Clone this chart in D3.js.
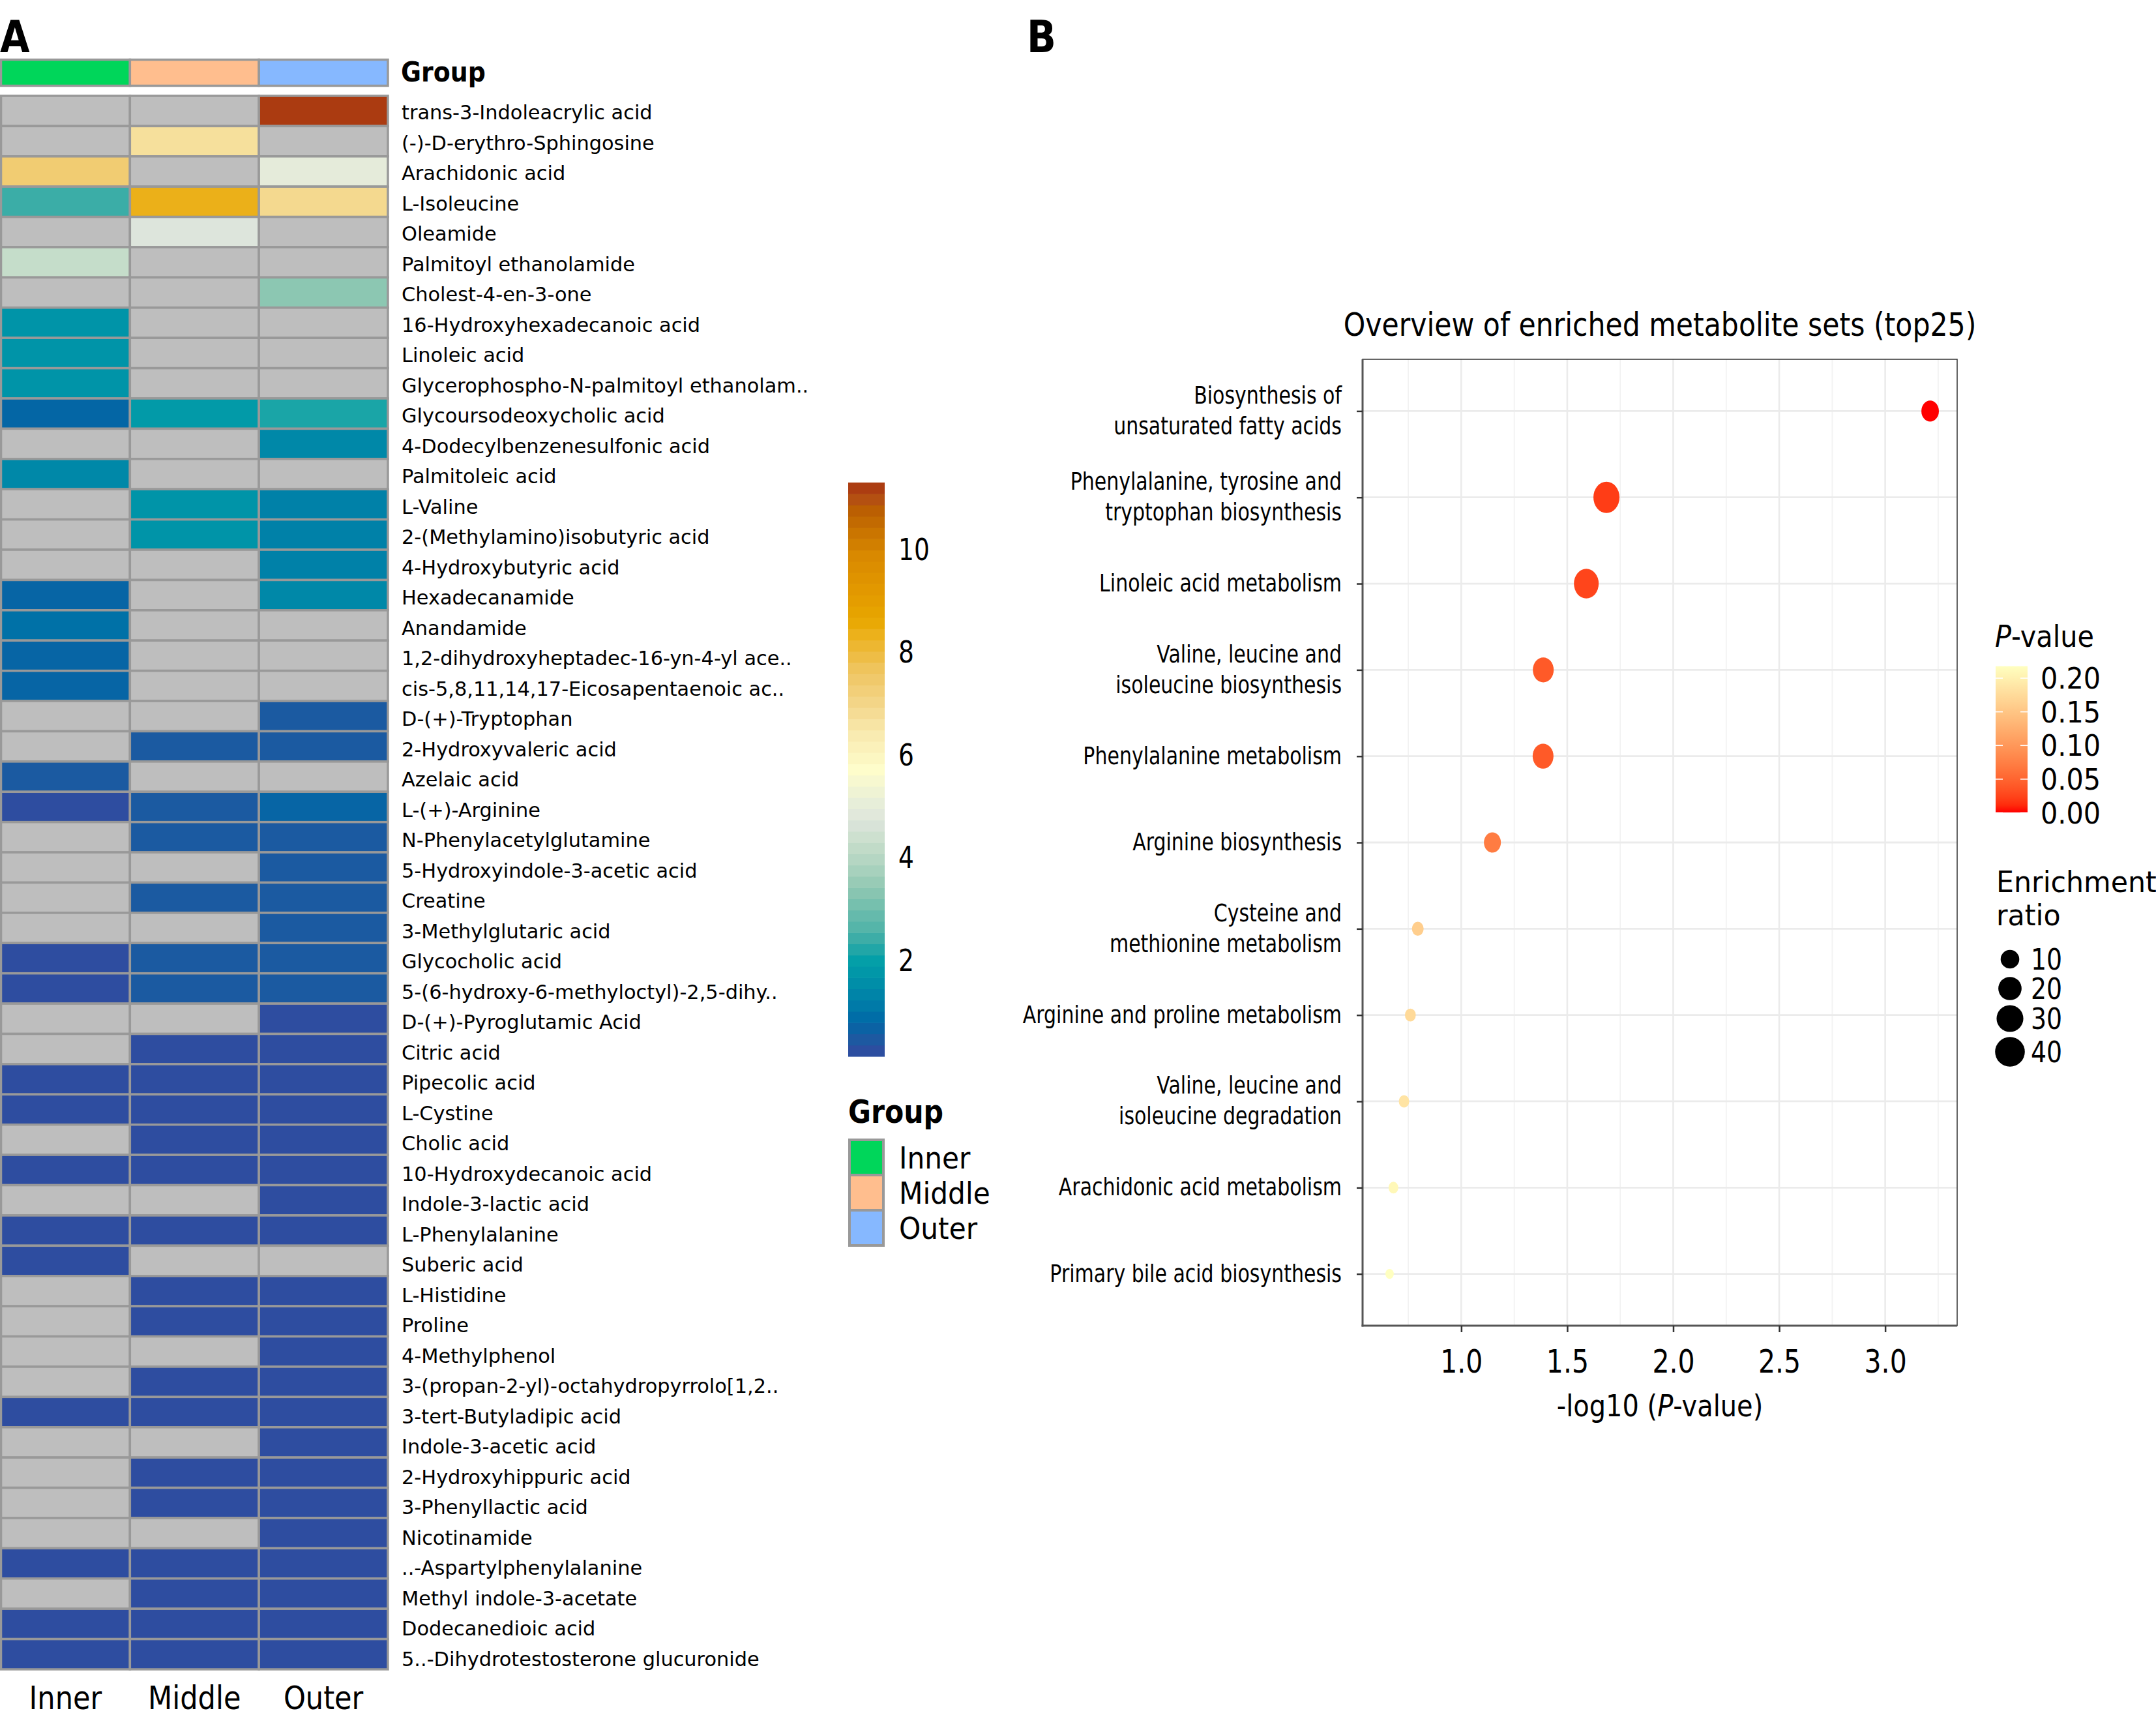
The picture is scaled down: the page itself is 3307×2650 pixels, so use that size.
<!DOCTYPE html>
<html><head><meta charset="utf-8">
<script src="https://cdn.jsdelivr.net/npm/d3@7"></script>
<style>body{margin:0;background:#fff}svg{display:block;background:#fff}</style>
</head><body>
<svg id="chart" width="3307" height="2650"></svg>
<script>
// ---------------- Panel A data ----------------
const metabolites = [
 "trans-3-Indoleacrylic acid","(-)-D-erythro-Sphingosine","Arachidonic acid","L-Isoleucine","Oleamide",
 "Palmitoyl ethanolamide","Cholest-4-en-3-one","16-Hydroxyhexadecanoic acid","Linoleic acid",
 "Glycerophospho-N-palmitoyl ethanolam..","Glycoursodeoxycholic acid","4-Dodecylbenzenesulfonic acid",
 "Palmitoleic acid","L-Valine","2-(Methylamino)isobutyric acid","4-Hydroxybutyric acid","Hexadecanamide",
 "Anandamide","1,2-dihydroxyheptadec-16-yn-4-yl ace..","cis-5,8,11,14,17-Eicosapentaenoic ac..",
 "D-(+)-Tryptophan","2-Hydroxyvaleric acid","Azelaic acid","L-(+)-Arginine","N-Phenylacetylglutamine",
 "5-Hydroxyindole-3-acetic acid","Creatine","3-Methylglutaric acid","Glycocholic acid",
 "5-(6-hydroxy-6-methyloctyl)-2,5-dihy..","D-(+)-Pyroglutamic Acid","Citric acid","Pipecolic acid",
 "L-Cystine","Cholic acid","10-Hydroxydecanoic acid","Indole-3-lactic acid","L-Phenylalanine",
 "Suberic acid","L-Histidine","Proline","4-Methylphenol","3-(propan-2-yl)-octahydropyrrolo[1,2..",
 "3-tert-Butyladipic acid","Indole-3-acetic acid","2-Hydroxyhippuric acid","3-Phenyllactic acid",
 "Nicotinamide","..-Aspartylphenylalanine","Methyl indole-3-acetate","Dodecanedioic acid",
 "5..-Dihydrotestosterone glucuronide"];
const groups = ["Inner","Middle","Outer"];
const groupColors = ["#00D65A","#FFBE8E","#86B8FF"];
const N = null;
const innerValues = [N,N,7.35,2.4,N,4.25,N,1.7,1.7,1.7,0.75,N,1.4,N,N,N,0.72,0.95,0.72,0.72,
 N,N,0.48,0.2,N,N,N,N,0.2,0.2,N,N,0.2,0.2,N,0.2,N,0.2,0.2,N,N,N,N,0.2,N,N,N,N,0.2,N,0.2,0.2];
const middleValues = [N,6.7,N,8.35,4.7,N,N,N,N,N,1.85,N,N,1.7,1.7,N,N,N,N,N,
 N,0.48,N,0.48,0.48,N,0.48,N,0.48,0.48,N,0.2,0.2,0.2,0.2,0.2,N,0.2,N,0.2,0.2,N,0.2,0.2,N,0.2,0.2,N,0.2,0.2,0.2,0.2];
const outerValues = [11.2,N,4.95,6.9,N,N,3.35,N,N,N,2.15,1.4,N,1.25,1.25,1.25,1.4,N,N,N,
 0.48,0.48,N,0.72,0.48,0.48,0.48,0.48,0.48,0.48,0.2,0.2,0.2,0.2,0.2,0.2,0.2,0.2,N,0.2,0.2,0.2,0.2,0.2,0.2,0.2,0.2,0.2,0.2,0.2,0.2,0.2];
const heatTicks = [2,4,6,8,10];
const heatRange = [0.12, 11.29];
const paletteValues = [0.12,0.45,0.8,1.1,1.4,1.7,2.0,2.3,2.6,3.0,3.4,3.85,4.3,4.7,5.1,5.7,6.4,6.8,7.2,7.7,8.3,8.6,9.1,9.86,10.3,10.76,11.0,11.29];
const paletteColors = ["#3449A0","#1D59A1","#0068A6","#007AA8","#0088A8","#0094A8","#04A0A8","#2FA9A6","#52B4A9","#70BEAD","#90C8B3","#AFD4C0","#C8DECB","#DDE5DC","#E9EFD8","#FEFDCB","#F9EAB0","#F5DC95","#F2D07C","#EFC35A","#ECB21E","#E8A700","#E39A00","#D98900","#CA7500","#BA5E02","#B34D14","#A8330F"];

// ---------------- Panel B data ----------------
const pathways = ["Biosynthesis of\nunsaturated fatty acids","Phenylalanine, tyrosine and\ntryptophan biosynthesis",
 "Linoleic acid metabolism","Valine, leucine and\nisoleucine biosynthesis","Phenylalanine metabolism",
 "Arginine biosynthesis","Cysteine and\nmethionine metabolism","Arginine and proline metabolism",
 "Valine, leucine and\nisoleucine degradation","Arachidonic acid metabolism","Primary bile acid biosynthesis"];
const negLog10P = [3.212,1.685,1.590,1.387,1.386,1.147,0.795,0.760,0.730,0.680,0.662];
const enrichmentRatio = [8.1,27.8,24.0,14.3,14.3,7.3,1.95,1.5,1.35,1.16,1.0];
const xTicks = [1.0,1.5,2.0,2.5,3.0];
const pTicks = [0.00,0.05,0.10,0.15,0.20];
const sizeBreaks = [10,20,30,40];

// ---------------- helpers ----------------
const svg = d3.select("#chart");
const FONT = "DejaVu Sans";
function label(parent, x, y, parts, o) {
  const t = parent.append("text")
    .attr("transform", `translate(${x},${y}) scale(${o.sx||1},1)`)
    .attr("font-family", FONT).attr("font-size", o.fs)
    .attr("font-weight", o.bold ? "bold" : "normal")
    .attr("text-anchor", o.anchor || "start").attr("fill", "#000");
  if (typeof parts === "string") t.text(parts);
  else parts.forEach(p => t.append("tspan").attr("font-style", p[1] ? "italic" : "normal").text(p[0]));
  return t;
}

// ---------------- Panel A ----------------
const gA = svg.append("g");
label(gA, 0, 80, "A", {fs:67, bold:true, sx:0.88});
const xA = d3.scaleBand().domain(groups).range([1.5, 595]);
const yA = d3.scaleBand().domain(metabolites).range([147, 2560]);
const yLab = d3.scalePoint().domain(metabolites).range([172.3, 2544]);
const heatColor = d3.scaleLinear().domain(paletteValues).range(paletteColors).clamp(true);
const cols = [innerValues, middleValues, outerValues];

// annotation bar
gA.selectAll("rect.ann").data(groups).join("rect").attr("class","ann")
  .attr("x", d => xA(d)).attr("y", 91.5).attr("width", xA.bandwidth()).attr("height", 40)
  .attr("fill", (d,i) => groupColors[i]).attr("stroke", "#999999").attr("stroke-width", 3.5);
label(gA, 615, 125, "Group", {fs:43, bold:true, sx:0.88});

// cells
const cells = [];
metabolites.forEach((m,i) => groups.forEach((g,j) => cells.push({m, g, v: cols[j][i]})));
gA.selectAll("rect.cell").data(cells).join("rect").attr("class","cell")
  .attr("x", d => xA(d.g)).attr("y", d => yA(d.m))
  .attr("width", xA.bandwidth()).attr("height", yA.bandwidth())
  .attr("fill", d => d.v == null ? "#BEBEBE" : heatColor(d.v))
  .attr("stroke", "#999999").attr("stroke-width", 3.5);

metabolites.forEach(m => label(gA, 616, yLab(m) + 10.8, m, {fs:29.5, sx:1.03}));
groups.forEach(g => label(gA, xA(g) + xA.bandwidth()/2, 2621, g, {fs:49, sx:0.88, anchor:"middle"}));

// colour bar
const cbY = d3.scaleLinear().domain(heatRange).range([1620, 740]);
const nb = 51, step = (heatRange[1]-heatRange[0])/nb;
const bands = d3.range(nb).map(k => heatRange[0] + k*step);
gA.selectAll("rect.cb").data(bands).join("rect").attr("class","cb")
  .attr("x", 1301).attr("width", 56)
  .attr("y", d => cbY(d+step)).attr("height", d => cbY(d) - cbY(d+step) + 0.6)
  .attr("fill", d => heatColor(d + step/2));
heatTicks.forEach(t => label(gA, 1378, cbY(t) + 17, String(t), {fs:47, sx:0.8}));

// group legend
label(gA, 1301, 1722, "Group", {fs:49, bold:true, sx:0.87});
const legY = d3.scaleBand().domain(groups).range([1748, 1910]);
gA.selectAll("rect.gl").data(groups).join("rect").attr("class","gl")
  .attr("x", 1303).attr("y", d => legY(d)).attr("width", 52).attr("height", legY.bandwidth())
  .attr("fill", (d,i) => groupColors[i]).attr("stroke", "#999999").attr("stroke-width", 4);
groups.forEach(g => label(gA, 1379, legY(g) + legY.bandwidth()/2 + 17, g, {fs:47, sx:0.9}));

// ---------------- Panel B ----------------
const gB = svg.append("g");
label(gB, 1575, 80, "B", {fs:67, bold:true, sx:0.88});
const ext = d3.extent(negLog10P), pad = (ext[1]-ext[0])*0.05;
const L = 2090, R = 3002, T = 551, B = 2033;
const xB = d3.scaleLinear().domain([ext[0]-pad, ext[1]+pad]).range([L, R]);
const yB = d3.scalePoint().domain(pathways).range([T, B]).padding(0.6);
const pValues = negLog10P.map(v => Math.pow(10, -v));
const colorP = d3.scaleLinear().domain(d3.extent(pValues)).range(["#FF0000","#FFFFC0"]).interpolate(d3.interpolateLab);
const erExt = [1, 40];
const rLin = d3.scaleLinear().domain([0,1]).range([6.44, 22.8]);
const rScale = v => rLin(Math.sqrt(Math.max(0, v - erExt[0]) / (erExt[1]-erExt[0])));

label(gB, (L+R)/2, 515, "Overview of enriched metabolite sets (top25)", {fs:49, sx:0.87, anchor:"middle"});
gB.append("rect").attr("x", L).attr("y", T).attr("width", R-L).attr("height", B-T).attr("fill", "#fff");
const minor = d3.range(0.75, 3.3, 0.5);
gB.selectAll("line.minor").data(minor).join("line").attr("class","minor")
  .attr("x1", d => xB(d)).attr("x2", d => xB(d)).attr("y1", T).attr("y2", B)
  .attr("stroke", "#F2F2F2").attr("stroke-width", 1.8);
gB.selectAll("line.majx").data(xTicks).join("line").attr("class","majx")
  .attr("x1", d => xB(d)).attr("x2", d => xB(d)).attr("y1", T).attr("y2", B)
  .attr("stroke", "#EBEBEB").attr("stroke-width", 2.6);
gB.selectAll("line.majy").data(pathways).join("line").attr("class","majy")
  .attr("x1", L).attr("x2", R).attr("y1", d => yB(d)).attr("y2", d => yB(d))
  .attr("stroke", "#EBEBEB").attr("stroke-width", 2.8);

const pts = pathways.map((p,i) => ({p, x: negLog10P[i], er: enrichmentRatio[i], pv: pValues[i]}));
gB.selectAll("ellipse.pt").data(pts).join("ellipse").attr("class","pt")
  .attr("cx", d => xB(d.x)).attr("cy", d => yB(d.p))
  .attr("rx", d => rScale(d.er)).attr("ry", d => rScale(d.er)*1.2)
  .attr("fill", d => colorP(d.pv));

gB.append("rect").attr("x", L).attr("y", T).attr("width", R-L).attr("height", B-T)
  .attr("fill", "none").attr("stroke", "#333").attr("stroke-width", 1.5);
gB.append("line").attr("x1", L).attr("x2", L).attr("y1", T).attr("y2", B+1.5).attr("stroke", "#555").attr("stroke-width", 3);
gB.append("line").attr("x1", L-1.5).attr("x2", R).attr("y1", B).attr("y2", B).attr("stroke", "#555").attr("stroke-width", 3);

const ax = gB.append("g").attr("transform", `translate(0,${B})`)
  .call(d3.axisBottom(xB).tickValues(xTicks).tickFormat(d3.format(".1f")).tickSize(10).tickPadding(26.5));
ax.select(".domain").remove();
ax.selectAll("line").attr("stroke", "#333").attr("stroke-width", 2.5);
ax.selectAll("text").attr("font-family", FONT).attr("font-size", 50).attr("fill", "#000")
  .attr("transform", "scale(0.82,1)");

const ay = gB.append("g").attr("transform", `translate(${L},0)`)
  .call(d3.axisLeft(yB).tickSize(9).tickFormat(() => ""));
ay.select(".domain").remove();
ay.selectAll("line").attr("stroke", "#333").attr("stroke-width", 2.5);

pathways.forEach(p => {
  const lines = p.split("\n"), cy = yB(p);
  const base = cy + 12 - (lines.length - 1) * 23.5;
  lines.forEach((ln, k) => label(gB, 2058, base + k*47, ln, {fs:37.5, sx:0.8, anchor:"end"}));
});
label(gB, (L+R)/2, 2172, [["-log10 (",false],["P",true],["-value)",false]], {fs:47, sx:0.85, anchor:"middle"});

// P-value legend
label(gB, 3060, 992, [["P",true],["-value",false]], {fs:46, sx:0.9});
const pY = d3.scaleLinear().domain([0, 0.2]).range([1246.5, 1040]);
const defs = svg.append("defs");
const grad = defs.append("linearGradient").attr("id","pgrad").attr("x1",0).attr("x2",0).attr("y1",1).attr("y2",0);
const pe = d3.extent(pValues);
d3.range(0, 1.0001, 0.05).forEach(f => grad.append("stop").attr("offset", f)
  .attr("stop-color", colorP(pe[0] + f*(pe[1]-pe[0]))));
gB.append("rect").attr("x", 3061).attr("width", 49).attr("y", pY(pe[1])).attr("height", pY(pe[0]) - pY(pe[1]))
  .attr("fill", "url(#pgrad)");
pTicks.forEach(t => {
  [[3061, 3072],[3099, 3110]].forEach(s => gB.append("line").attr("x1", s[0]).attr("x2", s[1])
    .attr("y1", pY(t)).attr("y2", pY(t)).attr("stroke", "#fff").attr("stroke-width", 1.6));
  label(gB, 3130, pY(t) + 16, d3.format(".2f")(t), {fs:45, sx:0.92});
});

// size legend
label(gB, 3062, 1368, "Enrichment", {fs:45, sx:0.95});
label(gB, 3062, 1419, "ratio", {fs:45, sx:0.95});
const sizeY = [1471, 1516, 1562, 1613];
sizeBreaks.forEach((s, i) => {
  gB.append("circle").attr("cx", 3083).attr("cy", sizeY[i]).attr("r", rScale(s)).attr("fill", "#000");
  label(gB, 3115, sizeY[i] + 16, String(s), {fs:44, sx:0.86});
});
</script>
</body></html>
